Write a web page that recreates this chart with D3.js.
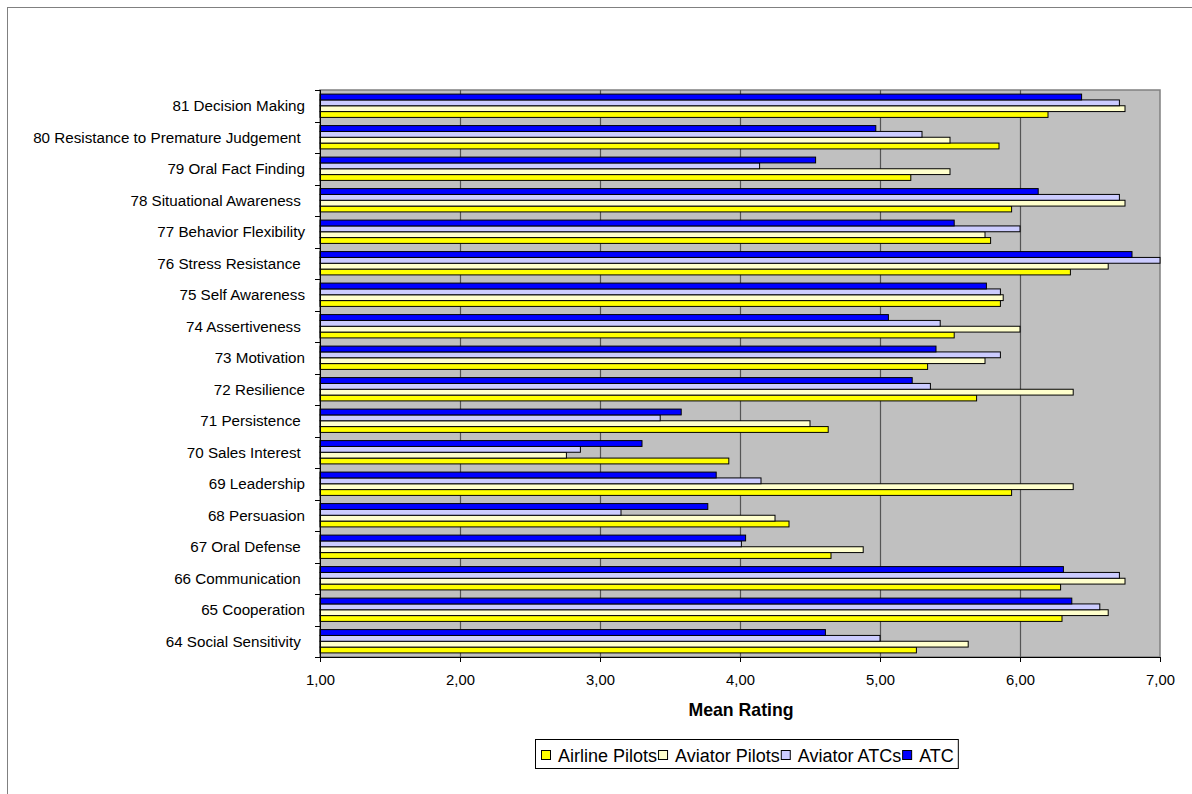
<!DOCTYPE html>
<html>
<head>
<meta charset="utf-8">
<script src="https://cdn.jsdelivr.net/npm/d3@7"></script>
<style>
  html, body { margin: 0; padding: 0; background: #fff; }
  svg { display: block; font-family: "Liberation Sans", Arial, sans-serif; }
</style>
</head>
<body>
<svg id="chart" width="1192" height="794"></svg>
<script>
// Categories, top to bottom
const categories = [
  "81 Decision Making",
  "80 Resistance to Premature Judgement ",
  "79 Oral Fact Finding",
  "78 Situational Awareness ",
  "77 Behavior Flexibility",
  "76 Stress Resistance ",
  "75 Self Awareness",
  "74 Assertiveness ",
  "73 Motivation",
  "72 Resilience",
  "71 Persistence ",
  "70 Sales Interest ",
  "69 Leadership",
  "68 Persuasion",
  "67 Oral Defense ",
  "66 Communication ",
  "65 Cooperation",
  "64 Social Sensitivity "
];
const seriesNames = ["Airline Pilots", "Aviator Pilots", "Aviator ATCs", "ATC"];
const seriesColors = ["#FFFF00", "#FFFFCC", "#CCCCFF", "#0000FF"];
const airlinePilots  = [6.20, 5.85, 5.22, 5.94, 5.79, 6.36, 5.86, 5.53, 5.34, 5.69, 4.63, 3.92, 5.94, 4.35, 4.65, 6.29, 6.30, 5.26];
const aviatorPilots  = [6.75, 5.50, 5.50, 6.75, 5.75, 6.63, 5.88, 6.00, 5.75, 6.38, 4.50, 2.76, 6.38, 4.25, 4.88, 6.75, 6.63, 5.63];
const aviatorATCs    = [6.71, 5.30, 4.14, 6.71, 6.00, 7.00, 5.86, 5.43, 5.86, 5.36, 3.43, 2.86, 4.15, 3.15, 4.01, 6.71, 6.57, 5.00];
const atc            = [6.44, 4.97, 4.54, 6.13, 5.53, 6.80, 5.76, 5.06, 5.40, 5.23, 3.58, 3.30, 3.83, 3.77, 4.04, 6.31, 6.37, 4.61];
const xTicks = [1, 2, 3, 4, 5, 6, 7];
const xTitle = "Mean Rating";

const seriesValues = [airlinePilots, aviatorPilots, aviatorATCs, atc];

const svg = d3.select("#chart");
const plot = { left: 320, right: 1160, top: 90, bottom: 657 };

// outer chart frame
svg.append("rect")
  .attr("x", 7.5).attr("y", 7.5).attr("width", 1200).attr("height", 800)
  .attr("fill", "#fff").attr("stroke", "#808080").attr("stroke-width", 1);

const x = d3.scaleLinear().domain([1, 7]).range([plot.left, plot.right]);
const y = d3.scaleBand().domain(categories).range([plot.top, plot.bottom])
  .paddingInner(0.26).paddingOuter(0.13);
// within group order top to bottom: ATC, Aviator ATCs, Aviator Pilots, Airline Pilots
const inner = d3.scaleBand().domain([3, 2, 1, 0]).range([0, y.bandwidth()]);

// plot background
svg.append("rect")
  .attr("x", plot.left).attr("y", plot.top)
  .attr("width", plot.right - plot.left).attr("height", plot.bottom - plot.top)
  .attr("fill", "#C0C0C0").attr("stroke", "#808080").attr("stroke-width", 1.5);

// gridlines
svg.append("g").selectAll("line").data(xTicks.slice(1, -1)).join("line")
  .attr("x1", d => Math.round(x(d)) + 0.5).attr("x2", d => Math.round(x(d)) + 0.5)
  .attr("y1", plot.top).attr("y2", plot.bottom)
  .attr("stroke", "#555").attr("stroke-width", 1.2);

// bars
const rows = [];
categories.forEach((c, i) => {
  seriesValues.forEach((vals, s) => rows.push({ c, s, v: vals[i] }));
});
svg.append("g").selectAll("rect").data(rows).join("rect")
  .attr("x", x(1))
  .attr("y", d => y(d.c) + inner(d.s))
  .attr("width", d => x(d.v) - x(1))
  .attr("height", inner.bandwidth())
  .attr("fill", d => seriesColors[d.s])
  .attr("stroke", "#000").attr("stroke-width", 1);

// y axis line and ticks at category boundaries
const yAxisG = svg.append("g");
yAxisG.append("line")
  .attr("x1", plot.left + 0.5).attr("x2", plot.left + 0.5)
  .attr("y1", plot.top).attr("y2", plot.bottom)
  .attr("stroke", "#000");
const boundaries = d3.range(categories.length + 1).map(i => plot.top + i * (plot.bottom - plot.top) / categories.length);
yAxisG.selectAll("line.t").data(boundaries).join("line").attr("class", "t")
  .attr("x1", plot.left - 5).attr("x2", plot.left)
  .attr("y1", d => Math.round(d) + 0.5).attr("y2", d => Math.round(d) + 0.5)
  .attr("stroke", "#000");
yAxisG.selectAll("text").data(categories).join("text")
  .attr("x", 305)
  .attr("y", d => y(d) + y.bandwidth() / 2)
  .attr("dy", "0.35em")
  .attr("text-anchor", "end")
  .style("white-space", "pre")
  .attr("font-size", 15.2)
  .attr("fill", "#000")
  .text(d => d);

// x axis
const fmt = d => d3.format(".2f")(d).replace(".", ",");
const xAxis = d3.axisBottom(x).tickValues(xTicks).tickFormat(fmt).tickSize(5).tickPadding(12);
const xg = svg.append("g").attr("transform", `translate(0,${plot.bottom})`).call(xAxis);
xg.select(".domain").attr("stroke", "#000");
xg.selectAll(".tick line").attr("stroke", "#000");
xg.selectAll("text").attr("font-size", 14.8).attr("font-family", "'Liberation Sans', Arial, sans-serif").attr("fill", "#000");

svg.append("text")
  .attr("x", (plot.left + plot.right) / 2 + 1).attr("y", 716)
  .attr("text-anchor", "middle").attr("font-weight", "bold").attr("font-size", 17.7)
  .text(xTitle);

// legend
const lg = svg.append("g");
const legendBox = lg.append("rect")
  .attr("y", 739.5).attr("height", 29)
  .attr("fill", "#fff").attr("stroke", "#000").attr("stroke-width", 1);
let cx = 541;
seriesNames.forEach((name, i) => {
  lg.append("rect").attr("x", cx + 0.5).attr("y", 750.5).attr("width", 9).attr("height", 9)
    .attr("fill", seriesColors[i]).attr("stroke", "#000");
  const t = lg.append("text").attr("x", cx + 17).attr("y", 762)
    .attr("font-size", 18).text(name);
  cx = cx + 17 + t.node().getComputedTextLength() + 1;
});
legendBox.attr("x", 535.5).attr("width", cx - 535 + 3);
</script>
</body>
</html>
